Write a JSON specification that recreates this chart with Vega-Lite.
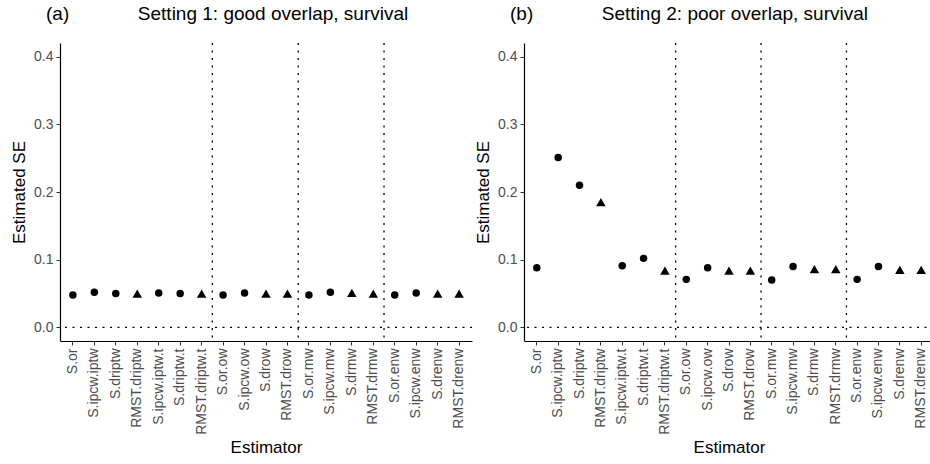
{
  "$schema": "https://vega.github.io/schema/vega-lite/v6.json",
  "background": "white",
  "padding": {"left": 10, "top": 5, "right": 0, "bottom": 0},
  "spacing": 1,
  "config": {
    "font": "Liberation Sans",
    "view": {"stroke": null},
    "axis": {"grid": false, "domainColor": "black", "domainWidth": 1.2, "tickColor": "#333333", "tickSize": 4, "labelColor": "#4d4d4d", "labelFontSize": 14, "titleFontSize": 17, "titleFontWeight": "normal", "titleColor": "black", "labelPadding": 3}
  },
  "datasets": {
    "se": [
      {"setting": 1, "estimator": "S.or", "se": 0.048, "type": "a"},
      {"setting": 1, "estimator": "S.ipcw.iptw", "se": 0.052, "type": "a"},
      {"setting": 1, "estimator": "S.driptw", "se": 0.050, "type": "a"},
      {"setting": 1, "estimator": "RMST.driptw", "se": 0.050, "type": "b"},
      {"setting": 1, "estimator": "S.ipcw.iptw.t", "se": 0.051, "type": "a"},
      {"setting": 1, "estimator": "S.driptw.t", "se": 0.050, "type": "a"},
      {"setting": 1, "estimator": "RMST.driptw.t", "se": 0.050, "type": "b"},
      {"setting": 1, "estimator": "S.or.ow", "se": 0.048, "type": "a"},
      {"setting": 1, "estimator": "S.ipcw.ow", "se": 0.051, "type": "a"},
      {"setting": 1, "estimator": "S.drow", "se": 0.050, "type": "b"},
      {"setting": 1, "estimator": "RMST.drow", "se": 0.050, "type": "b"},
      {"setting": 1, "estimator": "S.or.mw", "se": 0.048, "type": "a"},
      {"setting": 1, "estimator": "S.ipcw.mw", "se": 0.052, "type": "a"},
      {"setting": 1, "estimator": "S.drmw", "se": 0.051, "type": "b"},
      {"setting": 1, "estimator": "RMST.drmw", "se": 0.050, "type": "b"},
      {"setting": 1, "estimator": "S.or.enw", "se": 0.048, "type": "a"},
      {"setting": 1, "estimator": "S.ipcw.enw", "se": 0.051, "type": "a"},
      {"setting": 1, "estimator": "S.drenw", "se": 0.050, "type": "b"},
      {"setting": 1, "estimator": "RMST.drenw", "se": 0.050, "type": "b"},
      {"setting": 2, "estimator": "S.or", "se": 0.088, "type": "a"},
      {"setting": 2, "estimator": "S.ipcw.iptw", "se": 0.251, "type": "a"},
      {"setting": 2, "estimator": "S.driptw", "se": 0.210, "type": "a"},
      {"setting": 2, "estimator": "RMST.driptw", "se": 0.185, "type": "b"},
      {"setting": 2, "estimator": "S.ipcw.iptw.t", "se": 0.091, "type": "a"},
      {"setting": 2, "estimator": "S.driptw.t", "se": 0.102, "type": "a"},
      {"setting": 2, "estimator": "RMST.driptw.t", "se": 0.084, "type": "b"},
      {"setting": 2, "estimator": "S.or.ow", "se": 0.071, "type": "a"},
      {"setting": 2, "estimator": "S.ipcw.ow", "se": 0.088, "type": "a"},
      {"setting": 2, "estimator": "S.drow", "se": 0.084, "type": "b"},
      {"setting": 2, "estimator": "RMST.drow", "se": 0.084, "type": "b"},
      {"setting": 2, "estimator": "S.or.mw", "se": 0.070, "type": "a"},
      {"setting": 2, "estimator": "S.ipcw.mw", "se": 0.090, "type": "a"},
      {"setting": 2, "estimator": "S.drmw", "se": 0.086, "type": "b"},
      {"setting": 2, "estimator": "RMST.drmw", "se": 0.086, "type": "b"},
      {"setting": 2, "estimator": "S.or.enw", "se": 0.071, "type": "a"},
      {"setting": 2, "estimator": "S.ipcw.enw", "se": 0.090, "type": "a"},
      {"setting": 2, "estimator": "S.drenw", "se": 0.085, "type": "b"},
      {"setting": 2, "estimator": "RMST.drenw", "se": 0.085, "type": "b"}
    ]
  },
  "hconcat": [
    {
      "width": 412,
      "height": 298,
      "title": {"text": "(a)\u00a0\u00a0\u00a0\u00a0\u00a0\u00a0\u00a0\u00a0\u00a0\u00a0\u00a0\u00a0\u00a0Setting 1: good overlap, survival", "anchor": "start", "frame": "group", "dx": -14, "fontSize": 19, "fontWeight": "normal", "color": "black", "baseline": "alphabetic", "offset": 3},
      "data": {"name": "se"},
      "transform": [{"filter": "datum.setting == 1"}],
      "layer": [
        {
          "mark": {"type": "point", "filled": true, "opacity": 1, "color": "black"},
          "encoding": {
            "x": {"field": "estimator", "type": "nominal", "sort": null, "bandPosition": 0.5,
                  "scale": {"type": "band", "paddingInner": 0, "paddingOuter": 0.1},
                  "axis": {"title": "Estimator", "labelAngle": -90, "labelFontSize": 14, "titlePadding": 5}},
            "y": {"field": "se", "type": "quantitative",
                  "scale": {"domain": [-0.02, 0.42], "nice": false, "zero": false},
                  "axis": {"title": "Estimated SE", "values": [0, 0.1, 0.2, 0.3, 0.4], "format": ".1f", "titlePadding": 5}},
            "shape": {"field": "type", "type": "nominal", "scale": {"domain": ["a", "b"], "range": ["circle", "triangle-up"]}, "legend": null},
            "size": {"field": "type", "type": "nominal", "scale": {"domain": ["a", "b"], "range": [56, 90]}, "legend": null}
          }
        },
        {
          "mark": {"type": "rule", "strokeDash": [2, 5.5], "strokeWidth": 1.3, "color": "black"},
          "transform": [{"filter": {"field": "estimator", "oneOf": ["RMST.driptw.t", "RMST.drow", "RMST.drmw"]}}],
          "encoding": {"x": {"field": "estimator", "type": "nominal", "sort": null, "bandPosition": 1}}
        },
        {
          "data": {"values": [{"ref": 0}]},
          "mark": {"type": "rule", "strokeDash": [2, 5.5], "strokeWidth": 1.3, "color": "black"},
          "encoding": {"y": {"field": "ref", "type": "quantitative"}}
        }
      ]
    },
    {
      "width": 410,
      "height": 298,
      "title": {"text": "(b)\u00a0\u00a0\u00a0\u00a0\u00a0\u00a0\u00a0\u00a0\u00a0\u00a0\u00a0\u00a0\u00a0Setting 2: poor overlap, survival", "anchor": "start", "frame": "group", "dx": -14, "fontSize": 19, "fontWeight": "normal", "color": "black", "baseline": "alphabetic", "offset": 3},
      "data": {"name": "se"},
      "transform": [{"filter": "datum.setting == 2"}],
      "layer": [
        {
          "mark": {"type": "point", "filled": true, "opacity": 1, "color": "black"},
          "encoding": {
            "x": {"field": "estimator", "type": "nominal", "sort": null, "bandPosition": 0.5,
                  "scale": {"type": "band", "paddingInner": 0, "paddingOuter": 0.1},
                  "axis": {"title": "Estimator", "labelAngle": -90, "labelFontSize": 14, "titlePadding": 5}},
            "y": {"field": "se", "type": "quantitative",
                  "scale": {"domain": [-0.02, 0.42], "nice": false, "zero": false},
                  "axis": {"title": "Estimated SE", "values": [0, 0.1, 0.2, 0.3, 0.4], "format": ".1f", "titlePadding": 5}},
            "shape": {"field": "type", "type": "nominal", "scale": {"domain": ["a", "b"], "range": ["circle", "triangle-up"]}, "legend": null},
            "size": {"field": "type", "type": "nominal", "scale": {"domain": ["a", "b"], "range": [56, 90]}, "legend": null}
          }
        },
        {
          "mark": {"type": "rule", "strokeDash": [2, 5.5], "strokeWidth": 1.3, "color": "black"},
          "transform": [{"filter": {"field": "estimator", "oneOf": ["RMST.driptw.t", "RMST.drow", "RMST.drmw"]}}],
          "encoding": {"x": {"field": "estimator", "type": "nominal", "sort": null, "bandPosition": 1}}
        },
        {
          "data": {"values": [{"ref": 0}]},
          "mark": {"type": "rule", "strokeDash": [2, 5.5], "strokeWidth": 1.3, "color": "black"},
          "encoding": {"y": {"field": "ref", "type": "quantitative"}}
        }
      ]
    }
  ]
}
